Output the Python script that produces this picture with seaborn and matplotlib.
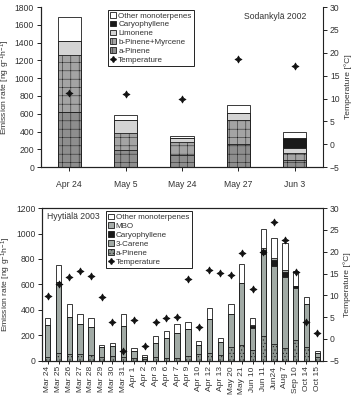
import numpy as np
import matplotlib
matplotlib.use('Agg')
import matplotlib.pyplot as plt
import seaborn as sns
from matplotlib.patches import Patch
from matplotlib.lines import Line2D

# ---------------- Sodankylä 2002 ----------------
sod_dates = ['Apr 24', 'May 5', 'May 24', 'May 27', 'Jun 3']
sod_a_pinene = [620, 190, 140, 260, 80]
sod_b_pinene_myrcene = [640, 190, 145, 270, 81]
sod_limonene = [155, 150, 38, 75, 49]
sod_caryophyllene = [0, 0, 0, 0, 113]
sod_other = [275, 55, 26, 92, 67]
sod_temp = [11.3, 10.9, 9.9, 18.6, 17.2]

# ---------------- Hyytiälä 2003 ----------------
hyy_dates = ['Mar 24', 'Mar 25', 'Mar 26', 'Mar 27', 'Mar 28', 'Mar 29', 'Mar 30',
             'Mar 31', 'Apr 1', 'Apr 2', 'Apr 3', 'Apr 6', 'Apr 7', 'Apr 9', 'Apr 10',
             'Apr 12', 'Apr 13', 'May 20', 'May 21', 'Jun 10', 'Jun 11', 'Jun24',
             'Aug 7', 'Sep 10', 'Oct 14', 'Oct 15']
hyy_a_pinene = [31, 58, 52, 52, 47, 31, 39, 31, 18, 10, 26, 24, 24, 37, 53, 58, 45,
                105, 123, 84, 194, 131, 97, 163, 110, 26]
hyy_3_carene = [247, 559, 295, 234, 218, 74, 79, 245, 61, 16, 116, 152, 196, 212, 70,
                273, 99, 263, 491, 176, 646, 615, 559, 409, 334, 37]
hyy_caryophyllene = [0, 0, 0, 0, 0, 0, 0, 0, 0, 0, 0, 0, 0, 0, 0, 0, 0, 0, 0,
                     15, 32, 47, 45, 16, 0, 0]
hyy_mbo = [0, 0, 0, 0, 0, 0, 0, 0, 0, 0, 0, 0, 0, 0, 0, 0, 0, 0, 0,
           6, 13, 18, 13, 0, 0, 0]
hyy_other = [55, 134, 99, 79, 68, 21, 24, 94, 23, 16, 50, 60, 69, 58, 32, 87, 35,
             81, 145, 55, 150, 153, 210, 121, 55, 16]
hyy_temp = [9.9, 12.7, 14.1, 15.6, 14.5, 9.7, 3.8, -2.8, 4.3, -1.6, 3.8, 4.7, 5.0,
            13.8, 2.8, 15.9, 15.1, 14.6, 19.7, 11.4, 19.9, 26.9, 22.7, 15.4, 3.9, 1.4]

sns.set_theme(style='ticks')
plt.rcParams['font.family'] = ['Liberation Sans', 'DejaVu Sans']
plt.rcParams.update({
    'mathtext.fontset': 'custom',
    'mathtext.rm': 'Liberation Sans',
    'mathtext.default': 'regular',
    'hatch.linewidth': 0.35,
    'axes.edgecolor': '#222222',
    'axes.linewidth': 0.8,
    'xtick.color': '#222222',
    'ytick.color': '#222222',
    'text.color': '#333333',
    'axes.labelcolor': '#333333',
    'xtick.labelcolor': '#333333',
    'ytick.labelcolor': '#333333',
})

TICK_FS = 6.2
LABEL_FS = 6.1
LEG_FS = 5.8
STAR = (4, 1, 0)


def draw_stack(ax, cats, layers, width):
    vals = np.array([l[0] for l in layers], dtype=float)
    cum = np.cumsum(vals, axis=0)
    for i in reversed(range(len(layers))):
        _, color, hatch, _ = layers[i]
        sns.barplot(x=cats, y=cum[i], order=cats, ax=ax, color=color, hatch=hatch,
                    edgecolor='#1a1a1a', linewidth=0.6, width=width, saturation=1,
                    errorbar=None)


def style_axes(ax, axt, ymax, ystep, top_spine):
    ax.set_ylim(0, ymax)
    ax.set_yticks(np.arange(0, ymax + 1, ystep))
    axt.set_ylim(-5, 30)
    axt.set_yticks(np.arange(-5, 31, 5))
    for a in (ax, axt):
        a.spines['top'].set_visible(top_spine)
        a.tick_params(axis='both', direction='out', length=3, width=0.7,
                      labelsize=TICK_FS, pad=2)
    ax.spines['right'].set_visible(False)
    axt.set_xlabel('')
    ax.set_xlabel('')
    ax.set_ylabel('Emission rate [ng g$^{-1}$h$^{-1}$]', fontsize=LABEL_FS, labelpad=2)
    axt.set_ylabel('Temperature [°C]', fontsize=LABEL_FS, labelpad=3)


fig = plt.figure(figsize=(3.53, 3.95), dpi=100)

# ---------------- top panel ----------------
ax1 = fig.add_axes([0.116, 0.577, 0.799, 0.405])
sod_layers = [
    (sod_a_pinene, '#8e8e8e', '++', 'a-Pinene'),
    (sod_b_pinene_myrcene, '#a4a4a4', '++', 'b-Pinene+Myrcene'),
    (sod_limonene, '#d4d4d4', None, 'Limonene'),
    (sod_caryophyllene, '#1a1a1a', None, 'Caryophyllene'),
    (sod_other, '#ffffff', None, 'Other monoterpenes'),
]
draw_stack(ax1, sod_dates, sod_layers, 0.41)
ax1t = ax1.twinx()
sns.scatterplot(x=np.arange(len(sod_dates)), y=sod_temp, ax=ax1t, marker=STAR,
                s=26, color='#111111', edgecolor='#111111', linewidth=0.5)
ax1.set_xlim(-0.5, len(sod_dates) - 0.5)
style_axes(ax1, ax1t, 1800, 200, False)
ax1.set_xticks(range(len(sod_dates)))
ax1.set_xticklabels(sod_dates, fontsize=TICK_FS)
ax1.tick_params(axis='x', pad=6)

handles1 = [Patch(facecolor=c, edgecolor='#1a1a1a', hatch=h, linewidth=0.6, label=lab)
            for (_, c, h, lab) in reversed(sod_layers)]
handles1.append(Line2D([], [], marker=STAR, linestyle='none', color='#111111',
                       markersize=4.2, label='Temperature'))
leg1 = ax1t.legend(handles=handles1, loc='upper left', bbox_to_anchor=(0.238, 0.985),
                   fontsize=LEG_FS, frameon=True, fancybox=False, edgecolor='#222222',
                   framealpha=1, handlelength=0.7, handleheight=0.7, handletextpad=0.25,
                   labelspacing=0.15, borderpad=0.3, borderaxespad=0)
leg1.get_frame().set_linewidth(0.7)
ax1t.text(0.72, 0.94, 'Sodankylä 2002', transform=ax1t.transAxes, fontsize=LEG_FS + 0.4,
          va='center', ha='left')

# ---------------- bottom panel ----------------
ax2 = fig.add_axes([0.120, 0.087, 0.794, 0.386])
hyy_layers = [
    (hyy_a_pinene, '#8d9590', '.....', 'a-Pinene'),
    (hyy_3_carene, '#a1aaa5', None, '3-Carene'),
    (hyy_caryophyllene, '#1a1a1a', None, 'Caryophyllene'),
    (hyy_mbo, '#a8aeab', None, 'MBO'),
    (hyy_other, '#ffffff', None, 'Other monoterpenes'),
]
draw_stack(ax2, hyy_dates, hyy_layers, 0.5)
ax2t = ax2.twinx()
sns.scatterplot(x=np.arange(len(hyy_dates)), y=hyy_temp, ax=ax2t, marker=STAR,
                s=26, color='#111111', edgecolor='#111111', linewidth=0.5)
ax2.set_xlim(-0.5, len(hyy_dates) - 0.5)
style_axes(ax2, ax2t, 1200, 200, True)
ax2.set_xticks(range(len(hyy_dates)))
ax2.set_xticklabels(hyy_dates, fontsize=TICK_FS - 0.2, rotation=90)
ax2.tick_params(axis='x', pad=1.5, length=2.5)

handles2 = [Patch(facecolor=c, edgecolor='#1a1a1a', hatch=h, linewidth=0.6, label=lab)
            for (_, c, h, lab) in reversed(hyy_layers)]
handles2.append(Line2D([], [], marker=STAR, linestyle='none', color='#111111',
                       markersize=4.2, label='Temperature'))
leg2 = ax2t.legend(handles=handles2, loc='upper left', bbox_to_anchor=(0.226, 0.98),
                   fontsize=LEG_FS, frameon=True, fancybox=False, edgecolor='#222222',
                   framealpha=1, handlelength=0.7, handleheight=0.7, handletextpad=0.25,
                   labelspacing=0.15, borderpad=0.3, borderaxespad=0)
leg2.get_frame().set_linewidth(0.7)
ax2t.text(0.017, 0.943, 'Hyytiälä 2003', transform=ax2t.transAxes, fontsize=LEG_FS + 0.4,
          va='center', ha='left')

fig.savefig('out.png', dpi=100)
